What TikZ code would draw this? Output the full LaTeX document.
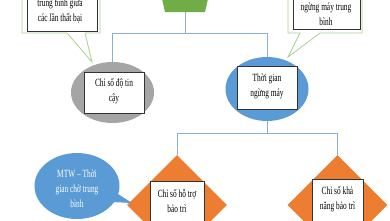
\documentclass[tikz,border=0pt]{standalone}
\usepackage{fontspec}
\setmainfont[FakeStretch=0.67]{Liberation Serif}
\usetikzlibrary{shapes.geometric,shapes.callouts}
\definecolor{cgreen}{RGB}{112,173,71}
\definecolor{cblue}{RGB}{91,155,213}
\definecolor{corange}{RGB}{237,125,49}
\definecolor{cgray}{RGB}{165,165,165}
\definecolor{cline}{RGB}{140,175,218}
\definecolor{cgreenl}{RGB}{169,209,142}
\tikzset{
  conn/.style={draw=cline, line width=0.8pt},
  txt/.style={font=\fontsize{11}{15}\selectfont, align=center, inner sep=0},
  innerbox/.style={rectangle, draw=black!80, line width=0.8pt, fill=white, inner sep=0},
  ell/.style={ellipse, inner sep=0},
  dia/.style={diamond, fill=corange, inner sep=0, minimum width=100, minimum height=100},
}
\begin{document}
\begin{tikzpicture}[x=1pt,y=-1pt]
\path[use as bounding box] (0,0) rectangle (390,220);
\clip (0,0) rectangle (390,220);
% top shape
\fill[cgreen] (160,-10) -- (210,-10) -- (205,12) -- (165,12) -- cycle;
\coordinate (goal) at (185,12);
\coordinate (bus1) at (185,33);
\coordinate (bus2) at (267,133);
% nodes
\node[ell, fill=cgray, minimum width=83, minimum height=61] (rel) at (112.5,92.5) {};
\node[innerbox, minimum width=60, minimum height=41] (relbox) at (114,92.5) {};
\node[txt] (reltxt) at (114,91) {Chỉ số độ tin\\cậy};
\node[ell, fill=cblue, minimum width=83, minimum height=64] (down) at (267,89) {};
\node[innerbox, minimum width=60, minimum height=43] (downbox) at (267,87.5) {};
\node[txt] (downtxt) at (267,86) {Thời gian\\ngừng máy};
\node[dia] (sup) at (177,205) {};
\node[innerbox, anchor=north, minimum width=54, minimum height=60] (supbox) at (177,181) {};
\node[txt] (suptxt) at (177,200.5) {Chỉ số hỗ trợ\\bảo trì};
\node[dia] (mnt) at (337.5,205) {};
\node[innerbox, anchor=north, minimum width=51, minimum height=60] (mntbox) at (337.5,179) {};
\node[txt] (mnttxt) at (337.5,199.5) {Chỉ số khả\\năng bảo trì};
% connectors
\draw[conn] (goal) -- (bus1) -| (rel.north);
\draw[conn] (bus1) -| (down.north);
\draw[conn] (down.south) -- (bus2) -| (sup.north);
\draw[conn] (bus2) -| (mnt.north);
% callout bottom-left
\coordinate (mtwtip) at (132,203);
\node[ellipse callout, fill=cblue, inner sep=0, minimum width=85, minimum height=66,
  callout absolute pointer={(mtwtip)}] (mtw) at (77,186) {};
\node[txt, text=white] (mtwtxt) at (77,189) {MTW – Thời\\gian chờ trung\\bình};
% callout top-left
\coordinate (tipL) at (92,62);
\filldraw[draw=cgreenl, fill=white, line width=0.8pt] (22,-10) -- (22,33) -- (67,33) -- (tipL) -- (85,33) -- (100,33) -- (100,-10);
\node[innerbox, minimum width=70, minimum height=41] (mtbfbox) at (62,10.5) {};
\node[txt] (mtbftxt) at (60,11.5) {trung bình giữa\\các lần thất bại};
% callout top-right
\coordinate (tipR) at (288,57);
\filldraw[draw=cgreenl, fill=white, line width=0.8pt] (288,-10) -- (288,33) -- (300,33) -- (tipR) -- (320,33) -- (362,33) -- (362,-10);
\node[innerbox, minimum width=67, minimum height=39] (mdtbox) at (326.5,9.5) {};
\node[txt] (mdttxt) at (326,14.5) {ngừng máy trung\\bình};
\end{tikzpicture}
\end{document}
